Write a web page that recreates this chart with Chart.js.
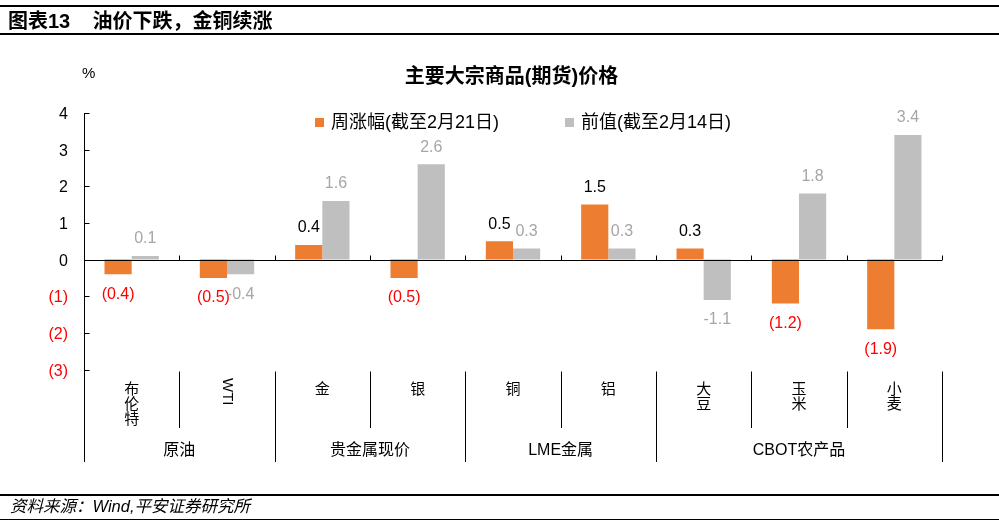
<!DOCTYPE html>
<html>
<head>
<meta charset="utf-8">
<script src="https://cdn.jsdelivr.net/npm/chart.js@4.4.1/dist/chart.umd.min.js"></script>
<style>
    body { margin: 0; background: #fff; }
    #wrap { position: relative; width: 999px; height: 525px; overflow: hidden;
        font-family: "Liberation Sans", "Noto Sans CJK SC", sans-serif; color: #000; }
    #chart { position: absolute; left: 0; top: 0; }
    .rule { position: absolute; left: 0; width: 999px; background: #000; }
    #head { position: absolute; left: 8px; top: 8px; font-size: 20px; font-weight: bold; line-height: 26px; white-space: pre; }
    #title { position: absolute; left: 0; width: 1023px; top: 63px; text-align: center; font-size: 20px; font-weight: bold; line-height: 26px; }
    #unit { position: absolute; left: 82px; top: 64px; font-size: 15px; line-height: 18px; }
    #foot { position: absolute; left: 10px; top: 496px; font-size: 16.5px; font-style: italic; line-height: 20px; }
</style>
</head>
<body>
<div id="wrap">
    <canvas id="chart" width="999" height="525"></canvas>
    <div class="rule" style="top:5px;height:2px"></div>
    <div id="head">图表13    油价下跌，金铜续涨</div>
    <div class="rule" style="top:33px;height:2px"></div>
    <div id="title">主要大宗商品(期货)价格</div>
    <div id="unit">%</div>
    <div class="rule" style="top:494px;height:2px"></div>
    <div id="foot">资料来源：Wind,平安证券研究所</div>
    <div class="rule" style="top:519px;height:1px"></div>
</div>
<script>
const categories = ["布伦特", "WTI", "金", "银", "铜", "铝", "大豆", "玉米", "小麦"];
const groupNames = ["原油", "贵金属现价", "LME金属", "CBOT农产品"];
const groupSizes = [2, 2, 2, 3];
const weekly = [-0.4, -0.5, 0.4, -0.5, 0.5, 1.5, 0.3, -1.2, -1.9];
const previous = [0.1, -0.4, 1.6, 2.6, 0.3, 0.3, -1.1, 1.8, 3.4];
const seriesNames = ["周涨幅(截至2月21日)", "前值(截至2月14日)"];
const yTicks = [4, 3, 2, 1, 0, -1, -2, -3];

const ORANGE = "#ED7D31";
const GREY = "#BFBFBF";
const RED = "#FF0000";
const FONT = '"Liberation Sans", "Noto Sans CJK SC", sans-serif';

function yLabel(v) {
    return v < 0 ? "(" + Math.abs(v) + ")" : String(v);
}

function line(ctx, x1, y1, x2, y2) {
    ctx.beginPath();
    ctx.moveTo(x1, y1);
    ctx.lineTo(x2, y2);
    ctx.stroke();
}

const decor = {
    id: "decor",
    afterDatasetsDraw(chart) {
        const ctx = chart.ctx;
        const xs = chart.scales.x;
        const ys = chart.scales.y;
        const area = chart.chartArea;
        const zero = Math.round(ys.getPixelForValue(0)) + 0.5;
        const axisX = Math.round(area.left) + 0.5;
        const labelTop = area.bottom + 2;

        ctx.save();
        ctx.strokeStyle = "#000";
        ctx.lineWidth = 1;

        // y axis + ticks pointing inwards
        line(ctx, axisX, area.top, axisX, 462);
        ctx.font = "16px " + FONT;
        ctx.textAlign = "right";
        ctx.textBaseline = "middle";
        yTicks.forEach(v => {
            const py = Math.round(ys.getPixelForValue(v)) + 0.5;
            line(ctx, axisX, py, axisX + 5, py);
            ctx.fillStyle = v < 0 ? RED : "#000";
            ctx.fillText(yLabel(v), 68, py + 1);
        });

        // zero line and category ticks
        line(ctx, axisX, zero, area.right, zero);
        const bounds = [area.left];
        for (let i = 1; i < categories.length; i++) {
            bounds.push((xs.getPixelForValue(i - 1) + xs.getPixelForValue(i)) / 2);
        }
        bounds.push(area.right);
        bounds.forEach((b, i) => {
            if (i > 0) line(ctx, Math.round(b) + 0.5, zero - 5, Math.round(b) + 0.5, zero);
        });

        // category separators (short inside a group, long between groups)
        const groupEnds = [];
        let acc = 0;
        groupSizes.forEach(s => { acc += s; groupEnds.push(acc); });
        for (let i = 1; i < bounds.length; i++) {
            const bx = Math.round(bounds[i]) + 0.5;
            const long = groupEnds.includes(i);
            line(ctx, bx, labelTop, bx, long ? 462 : 428);
        }

        // category labels
        ctx.fillStyle = "#000";
        ctx.font = "15px " + FONT;
        ctx.textAlign = "center";
        categories.forEach((c, i) => {
            const cx = xs.getPixelForValue(i);
            if (/^[A-Za-z]+$/.test(c)) {
                ctx.save();
                ctx.translate(cx, 378);
                ctx.rotate(Math.PI / 2);
                ctx.textAlign = "left";
                ctx.textBaseline = "middle";
                ctx.fillText(c, 0, 0);
                ctx.restore();
            } else {
                ctx.textBaseline = "middle";
                [...c].forEach((ch, k) => ctx.fillText(ch, cx, 390 + k * 15));
            }
        });

        // group labels
        ctx.font = "16px " + FONT;
        let start = 0;
        groupNames.forEach((g, gi) => {
            const end = start + groupSizes[gi];
            const gx = (bounds[start] + bounds[end]) / 2;
            ctx.fillText(g, gx, 451);
            start = end;
        });

        // data labels
        ctx.font = "16px " + FONT;
        chart.data.datasets.forEach((ds, di) => {
            const meta = chart.getDatasetMeta(di);
            meta.data.forEach((bar, i) => {
                const v = ds.data[i];
                let text, color;
                if (di === 0) {
                    text = v < 0 ? "(" + Math.abs(v).toFixed(1) + ")" : v.toFixed(1);
                    color = v < 0 ? RED : "#000";
                } else {
                    text = v.toFixed(1);
                    color = "#A6A6A6";
                }
                ctx.fillStyle = color;
                ctx.textBaseline = "middle";
                const ly = v >= 0 ? bar.y - 17 : bar.y + 20;
                ctx.fillText(text, bar.x, ly);
            });
        });

        // legend
        ctx.font = "18px " + FONT;
        ctx.textAlign = "left";
        ctx.textBaseline = "middle";
        const legendX = [315, 565];
        [ORANGE, GREY].forEach((col, k) => {
            ctx.fillStyle = col;
            ctx.fillRect(legendX[k], 118, 9, 9);
            ctx.fillStyle = "#000";
            ctx.fillText(seriesNames[k], legendX[k] + 16, 123);
        });

        ctx.restore();
    }
};

new Chart(document.getElementById("chart"), {
    type: "bar",
    data: {
        labels: categories,
        datasets: [
            { label: seriesNames[0], data: weekly, backgroundColor: ORANGE },
            { label: seriesNames[1], data: previous, backgroundColor: GREY }
        ]
    },
    options: {
        responsive: false,
        animation: false,
        layout: { padding: { left: 84, right: 57, top: 113, bottom: 155.5 } },
        datasets: { bar: { categoryPercentage: 0.57, barPercentage: 1.0 } },
        scales: {
            x: { display: false },
            y: { display: false, min: -3, max: 4 }
        },
        plugins: {
            legend: { display: false },
            tooltip: { enabled: false }
        }
    },
    plugins: [decor]
});
</script>
</body>
</html>
